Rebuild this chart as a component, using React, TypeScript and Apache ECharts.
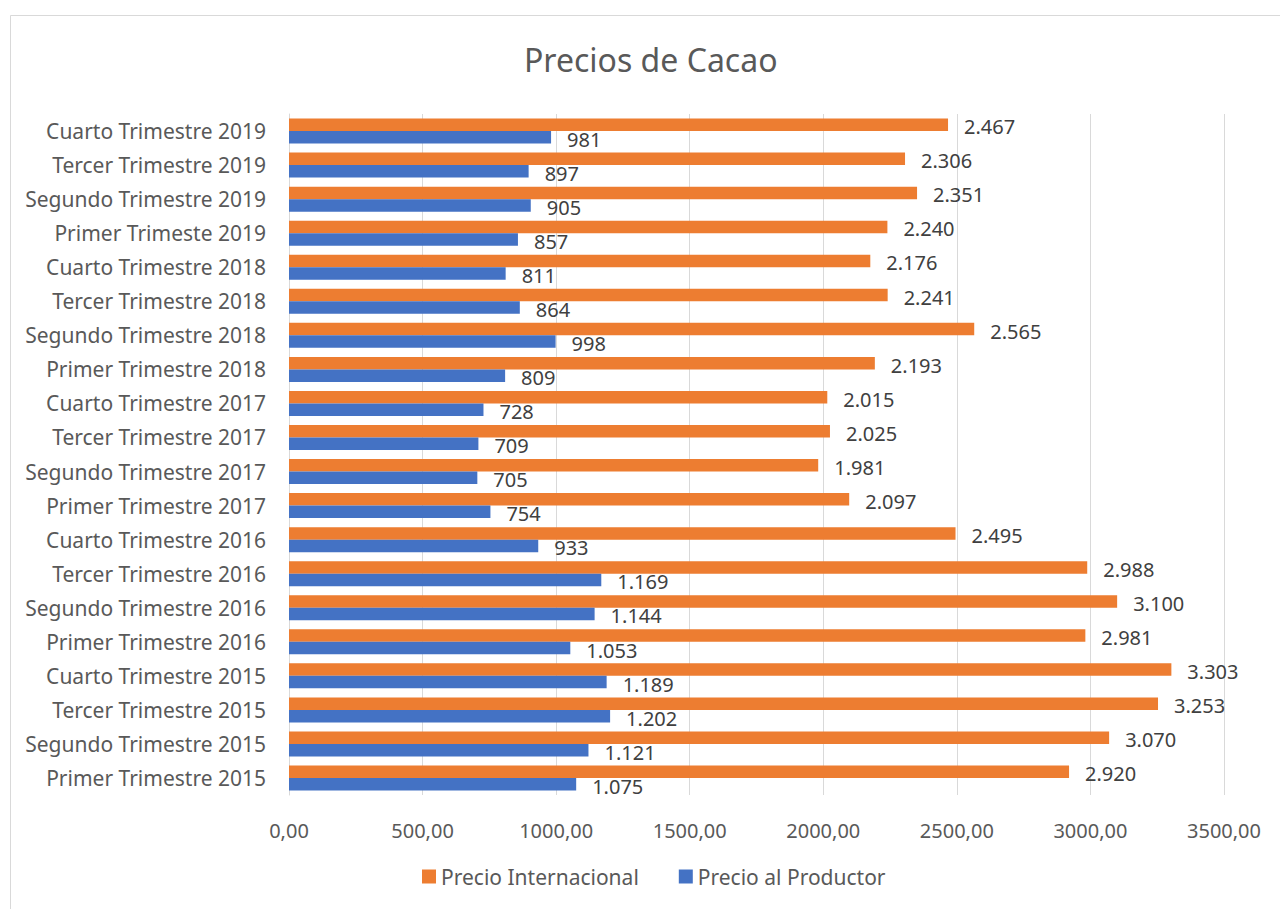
import React, { useEffect, useRef } from "react";
import * as echarts from "echarts";

const categories = [
  "Primer Trimestre 2015",
  "Segundo Trimestre 2015",
  "Tercer Trimestre 2015",
  "Cuarto Trimestre 2015",
  "Primer Trimestre 2016",
  "Segundo Trimestre 2016",
  "Tercer Trimestre 2016",
  "Cuarto Trimestre 2016",
  "Primer Trimestre 2017",
  "Segundo Trimestre 2017",
  "Tercer Trimestre 2017",
  "Cuarto Trimestre 2017",
  "Primer Trimestre 2018",
  "Segundo Trimestre 2018",
  "Tercer Trimestre 2018",
  "Cuarto Trimestre 2018",
  "Primer Trimeste 2019",
  "Segundo Trimestre 2019",
  "Tercer Trimestre 2019",
  "Cuarto Trimestre 2019",
];

const precioInternacional = [
  2920, 3070, 3253, 3303, 2981, 3100, 2988, 2495, 2097, 1981, 2025, 2015, 2193,
  2565, 2241, 2176, 2240, 2351, 2306, 2467,
];

const precioProductor = [
  1075, 1121, 1202, 1189, 1053, 1144, 1169, 933, 754, 705, 709, 728, 809, 998,
  864, 811, 857, 905, 897, 981,
];

const xTicks = { min: 0, max: 3500, interval: 500 };

const FONT = "'Noto Sans', 'Open Sans', sans-serif";

const fmtThousands = (v: number) =>
  String(Math.round(v)).replace(/\B(?=(\d{3})+(?!\d))/g, ".");
const fmtAxis = (v: number) => v.toFixed(2).replace(".", ",");

export default function App() {
  const ref = useRef<HTMLDivElement>(null);
  useEffect(() => {
    if (!ref.current) return;
    const chart = echarts.init(ref.current, undefined, { renderer: "svg" });
    const labelCommon = {
      show: true,
      position: "right" as const,
      distance: 16,
      offset: [0, 2],
      fontFamily: FONT,
      fontSize: 20,
      color: "#404040",
      formatter: (p: any) => fmtThousands(p.value),
    };
    chart.setOption({
      animation: false,
      backgroundColor: "#ffffff",
      textStyle: { fontFamily: FONT },
      graphic: [
        {
          type: "rect",
          shape: { x: 10.5, y: 15.5, width: 1290, height: 920 },
          style: { fill: "none", stroke: "#D9D9D9", lineWidth: 1 },
          silent: true,
        },
      ],
      title: {
        text: "Precios de Cacao",
        left: 519,
        top: 38,
        textStyle: {
          fontFamily: FONT,
          fontSize: 32,
          fontWeight: "normal",
          color: "#595959",
        },
      },
      legend: {
        bottom: 17,
        left: 417,
        itemWidth: 14,
        itemHeight: 14,
        itemGap: 40,
        icon: "rect",
        textStyle: { fontFamily: FONT, fontSize: 21, color: "#595959" },
        data: ["Precio Internacional", "Precio al Productor"],
      },
      grid: { left: 289, right: 56, top: 114, bottom: 114, containLabel: false },
      xAxis: {
        type: "value",
        min: xTicks.min,
        max: xTicks.max,
        interval: xTicks.interval,
        axisLine: { show: false },
        axisTick: { show: false },
        axisLabel: {
          fontFamily: FONT,
          fontSize: 20,
          color: "#595959",
          margin: 25,
          formatter: fmtAxis,
        },
        splitLine: { show: true, lineStyle: { color: "#D9D9D9", width: 1 } },
      },
      yAxis: {
        type: "category",
        data: categories,
        axisLine: { show: true, lineStyle: { color: "#D9D9D9" } },
        axisTick: { show: false },
        axisLabel: {
          fontFamily: FONT,
          fontSize: 21,
          color: "#595959",
          margin: 23,
        },
      },
      series: [
        {
          name: "Precio Internacional",
          type: "bar",
          data: precioInternacional,
          barWidth: 12.5,
          barGap: "0%",
          itemStyle: { color: "#ED7D31" },
          label: labelCommon,
        },
        {
          name: "Precio al Productor",
          type: "bar",
          data: precioProductor,
          barWidth: 12.5,
          barGap: "0%",
          itemStyle: { color: "#4472C4" },
          label: labelCommon,
        },
      ],
    });
    return () => chart.dispose();
  }, []);
  return (
    <div
      ref={ref}
      style={{ position: "fixed", left: 0, top: 0, width: 1280, height: 909 }}
    />
  );
}
